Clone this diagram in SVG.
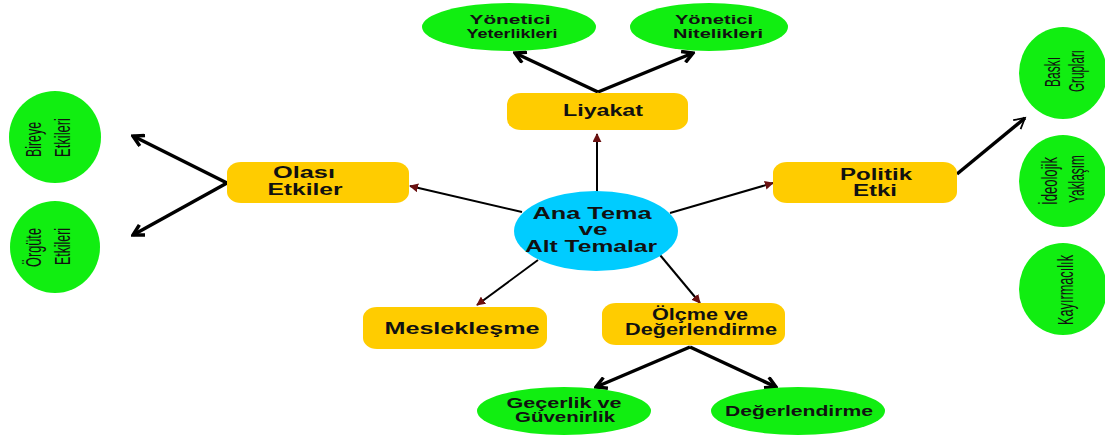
<svg xmlns="http://www.w3.org/2000/svg" width="1105" height="437" viewBox="0 0 1105 437">
<style>
.g{fill:#11ee11}
.y{fill:#ffcc00}
.c{fill:#00ccff}
.t{font-family:"Liberation Sans",Arial,sans-serif;font-weight:bold;fill:#111;text-anchor:middle}
.tb{font-size:16px}
.te{font-size:14px}
.ts{font-size:12.5px}
.v{font-family:"Liberation Sans",Arial,sans-serif;font-size:22px;fill:#111;text-anchor:middle}
.thick{stroke:#000;stroke-width:3.5;fill:none}
.thin{stroke:#000;stroke-width:2;fill:none}
</style>
<defs>
<marker id="chev" viewBox="0 0 12 12" refX="10" refY="6" markerWidth="14" markerHeight="14" markerUnits="userSpaceOnUse" orient="auto">
<path d="M1,1 L10,6 L1,11" fill="none" stroke="#000" stroke-width="3"/>
</marker>
<marker id="chevthin" viewBox="0 0 12 12" refX="10" refY="6" markerWidth="14" markerHeight="14" markerUnits="userSpaceOnUse" orient="auto">
<path d="M1,1 L10,6 L1,11" fill="none" stroke="#000" stroke-width="1.5"/>
</marker>
<marker id="tri" viewBox="0 0 10 10" refX="9" refY="5" markerWidth="9" markerHeight="9" markerUnits="userSpaceOnUse" orient="auto">
<path d="M0,0 L10,5 L0,10 z" fill="#6a1010"/>
</marker>
</defs>
<g id="connectors">
<line class="thick" x1="598" y1="92" x2="515" y2="53" marker-end="url(#chev)"/>
<line class="thick" x1="598" y1="92" x2="693" y2="53" marker-end="url(#chev)"/>
<line class="thick" x1="227" y1="183" x2="133" y2="136" marker-end="url(#chev)"/>
<line class="thick" x1="227" y1="183" x2="133" y2="235" marker-end="url(#chev)"/>
<line class="thick" x1="957" y1="174" x2="1025" y2="118" marker-end="url(#chevthin)"/>
<line class="thick" x1="690" y1="347" x2="596" y2="387" marker-end="url(#chev)"/>
<line class="thick" x1="690" y1="347" x2="776" y2="387" marker-end="url(#chev)"/>
<line class="thin" x1="597" y1="192" x2="597" y2="134" marker-end="url(#tri)"/>
<line class="thin" x1="522" y1="212" x2="410" y2="186" marker-end="url(#tri)"/>
<line class="thin" x1="670" y1="213" x2="773" y2="183" marker-end="url(#tri)"/>
<line class="thin" x1="538" y1="260" x2="477" y2="305" marker-end="url(#tri)"/>
<line class="thin" x1="660" y1="255" x2="700" y2="303" marker-end="url(#tri)"/>
</g>
<g id="center">
<ellipse class="c" cx="596" cy="231" rx="82" ry="40"/>
<text class="t tb" x="592" y="219" textLength="119" lengthAdjust="spacingAndGlyphs">Ana Tema</text>
<text class="t tb" x="593" y="235" textLength="29" lengthAdjust="spacingAndGlyphs">ve</text>
<text class="t tb" x="591" y="252" textLength="132" lengthAdjust="spacingAndGlyphs">Alt Temalar</text>
</g>
<g id="liyakat">
<rect class="y" x="507" y="93" width="181" height="37" rx="14" ry="11"/>
<text class="t tb" x="603" y="116" textLength="80" lengthAdjust="spacingAndGlyphs">Liyakat</text>
</g>
<g id="yeterlikleri">
<ellipse class="g" cx="509" cy="27" rx="87" ry="24"/>
<text class="t ts" x="510" y="24" textLength="81" lengthAdjust="spacingAndGlyphs">Yönetici</text>
<text class="t ts" x="512" y="38" textLength="91" lengthAdjust="spacingAndGlyphs">Yeterlikleri</text>
</g>
<g id="nitelikleri">
<ellipse class="g" cx="709" cy="27" rx="79" ry="24"/>
<text class="t ts" x="714" y="24" textLength="78" lengthAdjust="spacingAndGlyphs">Yönetici</text>
<text class="t ts" x="718" y="38" textLength="90" lengthAdjust="spacingAndGlyphs">Nitelikleri</text>
</g>
<g id="olasi">
<rect class="y" x="227" y="162" width="182" height="41" rx="14" ry="11"/>
<text class="t tb" x="304" y="178" textLength="62" lengthAdjust="spacingAndGlyphs">Olası</text>
<text class="t tb" x="305" y="195" textLength="75" lengthAdjust="spacingAndGlyphs">Etkiler</text>
</g>
<g id="bireye">
<ellipse class="g" cx="55" cy="137" rx="46" ry="46"/>
<text class="v" transform="translate(41,139.5) rotate(-90)" textLength="35" lengthAdjust="spacingAndGlyphs">Bireye</text>
<text class="v" transform="translate(70,137.5) rotate(-90)" textLength="39" lengthAdjust="spacingAndGlyphs">Etkileri</text>
</g>
<g id="orgute">
<ellipse class="g" cx="55" cy="247" rx="45" ry="46"/>
<text class="v" transform="translate(41,247.5) rotate(-90)" textLength="39" lengthAdjust="spacingAndGlyphs">Örgüte</text>
<text class="v" transform="translate(70,246.5) rotate(-90)" textLength="37" lengthAdjust="spacingAndGlyphs">Etkileri</text>
</g>
<g id="politik">
<rect class="y" x="773" y="162" width="184" height="41" rx="14" ry="11"/>
<text class="t tb" x="876" y="180" textLength="72" lengthAdjust="spacingAndGlyphs">Politik</text>
<text class="t tb" x="875" y="196" textLength="44" lengthAdjust="spacingAndGlyphs">Etki</text>
</g>
<g id="baski">
<ellipse class="g" cx="1063" cy="73" rx="44" ry="46"/>
<text class="v" transform="translate(1060,72) rotate(-90)" textLength="30" lengthAdjust="spacingAndGlyphs">Baskı</text>
<text class="v" transform="translate(1084,71) rotate(-90)" textLength="42" lengthAdjust="spacingAndGlyphs">Grupları</text>
</g>
<g id="ideolojik">
<ellipse class="g" cx="1063" cy="181" rx="44" ry="46"/>
<text class="v" transform="translate(1057,181) rotate(-90)" textLength="48" lengthAdjust="spacingAndGlyphs">İdeolojik</text>
<text class="v" transform="translate(1084,179) rotate(-90)" textLength="48" lengthAdjust="spacingAndGlyphs">Yaklaşım</text>
</g>
<g id="kayirmacilik">
<ellipse class="g" cx="1063" cy="289" rx="44" ry="46"/>
<text class="v" transform="translate(1073,290) rotate(-90)" textLength="70" lengthAdjust="spacingAndGlyphs">Kayırmacılık</text>
</g>
<g id="meslek">
<rect class="y" x="363" y="307" width="184" height="42" rx="14" ry="11"/>
<text class="t tb" x="462" y="334" textLength="155" lengthAdjust="spacingAndGlyphs">Meslekleşme</text>
</g>
<g id="olcme">
<rect class="y" x="602" y="303" width="183" height="42" rx="14" ry="11"/>
<text class="t tb" x="700" y="320" textLength="96" lengthAdjust="spacingAndGlyphs">Ölçme ve</text>
<text class="t tb" x="701" y="335" textLength="152" lengthAdjust="spacingAndGlyphs">Değerlendirme</text>
</g>
<g id="gecerlik">
<ellipse class="g" cx="564" cy="411" rx="87" ry="24"/>
<text class="t te" x="564" y="408" textLength="115" lengthAdjust="spacingAndGlyphs">Geçerlik ve</text>
<text class="t te" x="565" y="422" textLength="100" lengthAdjust="spacingAndGlyphs">Güvenirlik</text>
</g>
<g id="degerlendirme">
<ellipse class="g" cx="798" cy="411" rx="87" ry="24"/>
<text class="t te" x="799" y="416" textLength="148" lengthAdjust="spacingAndGlyphs">Değerlendirme</text>
</g>
</svg>
